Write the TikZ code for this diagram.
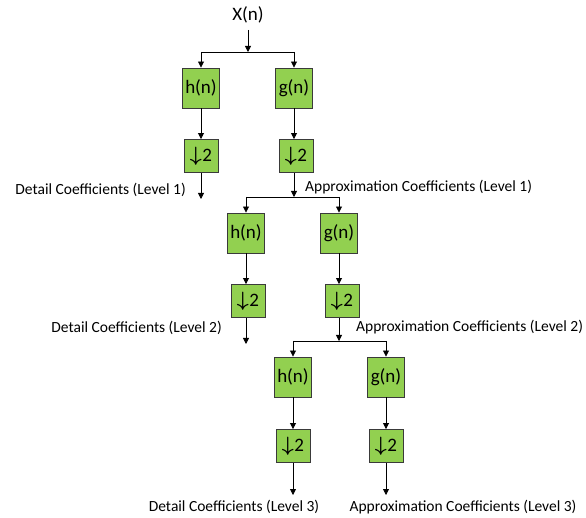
\documentclass[tikz,border=0pt]{standalone}
\usepackage{fontspec}
\setmainfont{Carlito}
\usetikzlibrary{arrows.meta}
\definecolor{boxgreen}{HTML}{92D050}
\definecolor{boxedge}{HTML}{3A3A3A}
\tikzset{
  x=1pt,y=-1pt,
  filt/.style={draw=boxedge,fill=boxgreen,line width=0.9pt,minimum width=37pt,minimum height=40pt,inner sep=0pt,font=\fontsize{19}{19}\selectfont},
  down/.style={draw=boxedge,fill=boxgreen,line width=0.9pt,minimum width=34pt,minimum height=33pt,inner sep=0pt,font=\fontsize{19}{19}\selectfont},
  lab/.style={font=\fontsize{15.5}{16}\selectfont,inner sep=0pt},
  arr/.style={-{Triangle[length=6pt,width=6pt]},line width=0.8pt},
  ln/.style={line width=0.8pt}
}
\newcommand{\dsym}{{\fontsize{21}{21}\selectfont\boldmath$\downarrow$}\kern0.5pt2}
\begin{document}
\begin{tikzpicture}
\useasboundingbox (0,0) rectangle (586,518);
% input
\node[font=\fontsize{19}{19}\selectfont,inner sep=0pt] (X) at (248,15) {X(n)};
\coordinate (s1) at (248,52);
\coordinate (s1l) at (201,52);
\coordinate (s1r) at (294,52);
% level 1
\node[filt] (h1) at (201,88) {h(n)};
\node[filt] (g1) at (294,88) {g(n)};
\node[down] (d1) at (201,156) {\dsym};
\node[down] (a1) at (296,156) {\dsym};
\coordinate (e1) at (201,199);
\coordinate (s2) at (294,197);
\coordinate (s2l) at (246,197);
\coordinate (s2r) at (339,197);
\node[lab,anchor=east] (dl1) at (186,190) {Detail Coefficients (Level 1)};
\node[lab,anchor=west] (al1) at (305,187) {Approximation Coefficients (Level 1)};
% level 2
\node[filt] (h2) at (246,233) {h(n)};
\node[filt] (g2) at (339,233) {g(n)};
\node[down] (d2) at (248,301) {\dsym};
\node[down] (a2) at (342,301) {\dsym};
\coordinate (e2) at (246,344);
\coordinate (s3) at (339,341);
\coordinate (s3l) at (293,341);
\coordinate (s3r) at (386,341);
\node[lab,anchor=east] (dl2) at (222,328) {Detail Coefficients (Level 2)};
\node[lab,anchor=west] (al2) at (356,327) {Approximation Coefficients (Level 2)};
% level 3
\node[filt] (h3) at (293,377) {h(n)};
\node[filt] (g3) at (386,377) {g(n)};
\node[down] (d3) at (293,446) {\dsym};
\node[down] (a3) at (386,446) {\dsym};
\coordinate (e3) at (293,495);
\coordinate (e4) at (386,495);
\node[lab] (dl3) at (234,507) {Detail Coefficients (Level 3)};
\node[lab] (al3) at (463,507) {Approximation Coefficients (Level 3)};
% connectors
\draw[arr] (248,30) -- (s1);
\draw[ln] (s1l) -- (s1r);
\draw[arr] (s1l) -- (h1.north);
\draw[arr] (s1r) -- (g1.north);
\draw[arr] (h1.south) -- (d1.north -| h1.south);
\draw[arr] (g1.south) -- (a1.north -| g1.south);
\draw[arr] (d1.south -| e1) -- (e1);
\draw[arr] (a1.south -| s2) -- (s2);
\draw[ln] (s2l) -- (s2r);
\draw[arr] (s2l) -- (h2.north);
\draw[arr] (s2r) -- (g2.north);
\draw[arr] (h2.south) -- (d2.north -| h2.south);
\draw[arr] (g2.south) -- (a2.north -| g2.south);
\draw[arr] (d2.south -| e2) -- (e2);
\draw[arr] (a2.south -| s3) -- (s3);
\draw[ln] (s3l) -- (s3r);
\draw[arr] (s3l) -- (h3.north);
\draw[arr] (s3r) -- (g3.north);
\draw[arr] (h3.south) -- (d3.north);
\draw[arr] (g3.south) -- (a3.north);
\draw[arr] (d3.south) -- (e3);
\draw[arr] (a3.south) -- (e4);
\end{tikzpicture}
\end{document}
